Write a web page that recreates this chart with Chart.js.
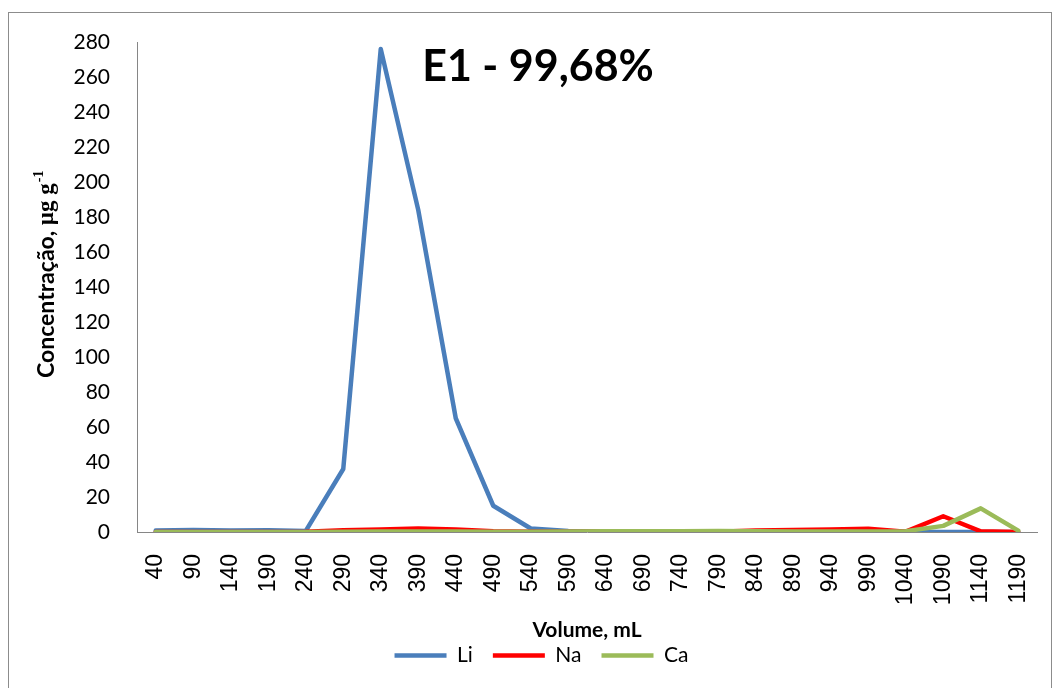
<!DOCTYPE html>
<html>
<head>
<meta charset="utf-8">
<script src="https://cdn.jsdelivr.net/npm/chart.js@4/dist/chart.umd.min.js"></script>
<style>
  html, body { margin: 0; padding: 0; background: #fff; }
  #wrap { position: relative; width: 1054px; height: 688px; }
</style>
</head>
<body>
<div id="wrap"><canvas id="c" width="1054" height="688"></canvas></div>
<script>
// Eluted volume (mL) for each collected fraction
const volumes = [40, 90, 140, 190, 240, 290, 340, 390, 440, 490, 540, 590,
                 640, 690, 740, 790, 840, 890, 940, 990, 1040, 1090, 1140, 1190];

// Concentration in each fraction, µg g-1
const li = [0.8, 1.2, 0.8, 1.0, 0.6, 36, 276, 184, 65, 15, 2, 0.6,
            0.5, 0.3, 0.2, 0.2, 0.2, 0.2, 0.2, 0.2, 0.1, 0, 0, 0];
const na = [0, 0, 0, 0, 0.2, 1.0, 1.5, 2.0, 1.5, 0.4, 0.2, 0.2,
            0.3, 0.2, 0.3, 0.2, 0.8, 1.2, 1.5, 1.8, 0.2, 9, 0.4, 0];
const ca = [0, 0, 0, 0, 0, 0.2, 0.3, 0.3, 0.3, 0.2, 0.2, 0.3,
            0.4, 0.5, 0.5, 0.6, 0.4, 0.3, 0.3, 0.3, 0.5, 3.5, 13.5, 0.8];

// Y axis range
const yMin = 0;
const yMax = 280;
const yStep = 20;

const titleText = 'E1 - 99,68%';
const xTitle = 'Volume, mL';

const AXIS_GREY = '#868686';

// Outer frame, in-plot heading and the y-axis title (with superscript)
const decor = {
  id: 'decor',
  beforeDraw(chart) {
    const ctx = chart.ctx;
    ctx.save();
    ctx.fillStyle = '#ffffff';
    ctx.fillRect(0, 0, chart.width, chart.height);
    ctx.strokeStyle = '#8c8c8c';
    ctx.lineWidth = 1;
    ctx.strokeRect(8.5, 12.5, 1043, 720);
    ctx.restore();
  },
  afterDraw(chart) {
    const ctx = chart.ctx;
    const area = chart.chartArea;
    ctx.save();
    // heading inside the plot
    ctx.fillStyle = '#000';
    ctx.font = 'bold 43px Lato';
    ctx.textAlign = 'center';
    ctx.textBaseline = 'alphabetic';
    ctx.fillText(titleText, area.left + 401, 81);

    // y-axis title, read bottom to top
    ctx.translate(47, 378);
    ctx.rotate(-Math.PI / 2);
    ctx.textAlign = 'left';
    ctx.textBaseline = 'middle';
    let x = 0;
    ctx.font = 'bold 23px Lato';
    const p1 = 'Concentração, ';
    ctx.fillText(p1, x, 0);
    x += ctx.measureText(p1).width;
    ctx.font = 'bold 23px "Liberation Serif"';
    const p2 = 'µg g';
    ctx.fillText(p2, x, 0);
    x += ctx.measureText(p2).width;
    ctx.font = 'bold 14px "Liberation Serif"';
    ctx.fillText('-1', x + 1, -8);
    ctx.restore();
  }
};

const lineStyle = {
  pointRadius: 0,
  pointHoverRadius: 0,
  borderWidth: 4.5,
  tension: 0,
  borderCapStyle: 'round',
  borderJoinStyle: 'round',
  fill: false
};

new Chart(document.getElementById('c'), {
  type: 'line',
  data: {
    labels: volumes.map(String),
    datasets: [
      Object.assign({ label: 'Li', data: li, borderColor: '#4A7EBB', backgroundColor: '#4A7EBB', order: 2 }, lineStyle),
      Object.assign({ label: 'Na', data: na, borderColor: '#FF0000', backgroundColor: '#FF0000', order: 1 }, lineStyle),
      Object.assign({ label: 'Ca', data: ca, borderColor: '#9BBB59', backgroundColor: '#9BBB59', order: 0 }, lineStyle)
    ]
  },
  options: {
    responsive: false,
    animation: false,
    events: [],
    layout: { padding: { left: 46, right: 17, top: 42, bottom: 12 } },
    plugins: {
      tooltip: { enabled: false },
      title: { display: false },
      legend: {
        position: 'bottom',
        align: 'center',
        maxHeight: 51,
        labels: {
          usePointStyle: true,
          pointStyle: 'line',
          pointStyleWidth: 52,
          padding: 20,
          color: '#000',
          font: { family: 'Lato', size: 21 },
          sort: (a, b) => a.datasetIndex - b.datasetIndex
        }
      }
    },
    scales: {
      x: {
        offset: true,
        grid: { display: false, drawTicks: false },
        border: { display: true, color: AXIS_GREY, width: 1 },
        ticks: {
          minRotation: 90,
          maxRotation: 90,
          autoSkip: false,
          padding: 22,
          color: '#000',
          font: { family: 'Liberation Sans', size: 23 }
        },
        title: {
          display: true,
          text: xTitle,
          color: '#000',
          font: { family: 'Lato', size: 21, weight: 'bold', lineHeight: 1 },
          padding: { top: 0, bottom: -16 }
        },
        afterFit(scale) {
          scale.height = (688 - 12 - 51) - 532;
          scale.paddingLeft = 0;
          scale.paddingRight = 0;
        }
      },
      y: {
        min: yMin,
        max: yMax,
        grid: { display: false, drawTicks: false },
        border: { display: true, color: AXIS_GREY, width: 1 },
        ticks: {
          stepSize: yStep,
          padding: 27,
          color: '#000',
          font: { family: 'Lato', size: 21 }
        },
        title: { display: false },
        afterFit(scale) { scale.width = 137 - 46; }
      }
    }
  },
  plugins: [decor]
});
</script>
</body>
</html>
